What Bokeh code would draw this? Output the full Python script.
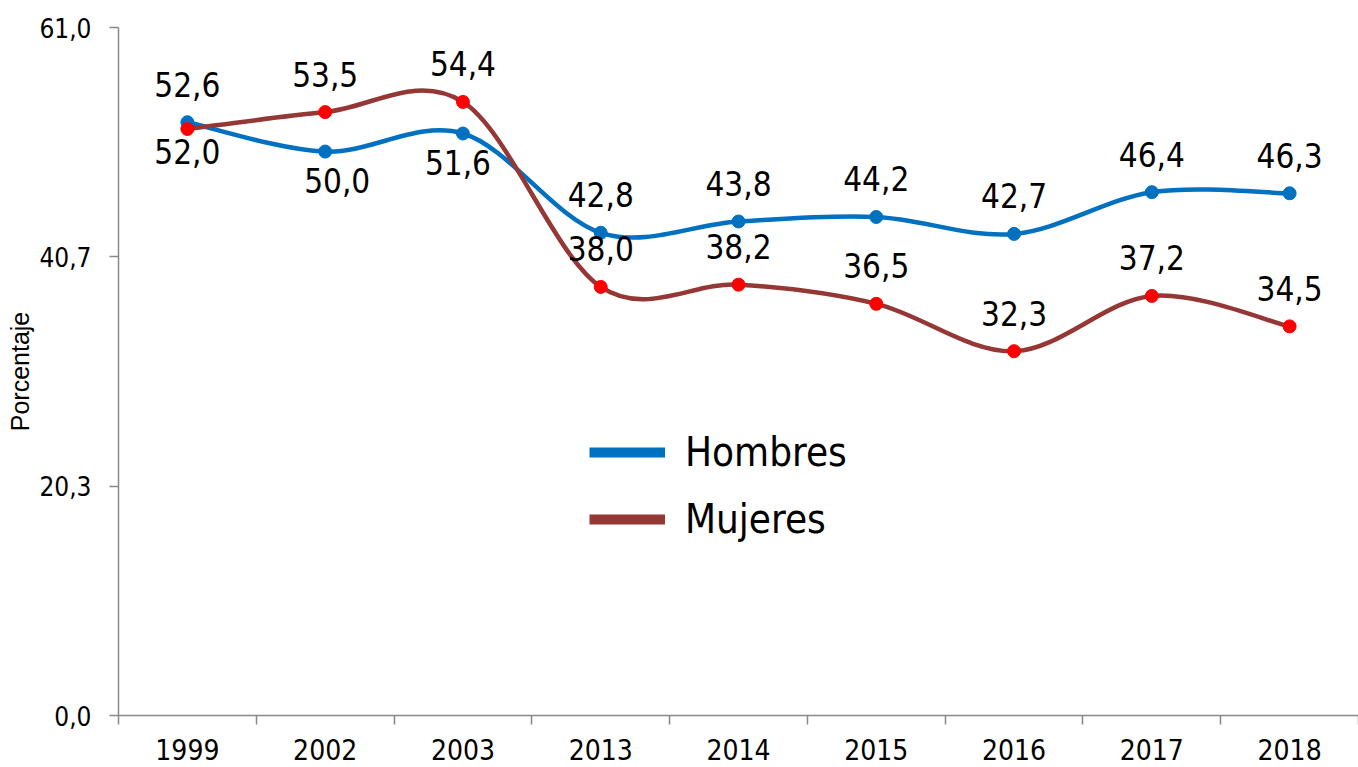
import numpy as np
from bokeh.plotting import figure
from bokeh.models import (Range1d, FixedTicker, CustomJSTickFormatter, Legend,
                          LegendItem, ColumnDataSource)
from bokeh.core.properties import value
from bokeh.embed import file_html
from bokeh.resources import INLINE

# ---------------- data ----------------
years = ["1999", "2002", "2003", "2013", "2014", "2015", "2016", "2017", "2018"]
hombres = [52.6, 50.0, 51.6, 42.8, 43.8, 44.2, 42.7, 46.4, 46.3]
mujeres = [52.0, 53.5, 54.4, 38.0, 38.2, 36.5, 32.3, 37.2, 34.5]
y_max = 61.0
y_tick_values = [0.0, y_max / 3, 2 * y_max / 3, y_max]

# ---------------- label placement (style) ----------------
hombres_label_dx = [0, 12, -5, 0, 0, 0, 0, 0, 0]
hombres_label_dy = [-38, 29, 29, -38, -38, -38, -38, -38, -38]
mujeres_label_dx = [0, 0, 0, 0, 0, 0, 0, 0, 0]
mujeres_label_dy = [22, -38, -38, -38, -38, -38, -38, -38, -38]

NARROW = ("Liberation Sans Narrow, Arial Narrow, DejaVu Sans Condensed, "
          "Liberation Sans, sans-serif")
REGULAR = "Liberation Sans, Arial, sans-serif"
BLUE = "#0070C0"
DARKRED = "#953735"
RED = "#FF0000"
AXIS = "#898989"


def smooth_segments(vals):
    """Cubic Bezier control points for a smoothed line through the values."""
    n = len(vals)
    xs = np.arange(n, dtype=float)
    ys = np.asarray(vals, dtype=float)
    px = np.concatenate([[xs[0]], xs, [xs[-1]]])
    py = np.concatenate([[ys[0]], ys, [ys[-1]]])
    return dict(
        x0=xs[:-1], y0=ys[:-1], x1=xs[1:], y1=ys[1:],
        cx0=px[1:n] + (px[2:n + 1] - px[0:n - 1]) / 6.0,
        cy0=py[1:n] + (py[2:n + 1] - py[0:n - 1]) / 6.0,
        cx1=px[2:n + 1] - (px[3:n + 2] - px[1:n]) / 6.0,
        cy1=py[2:n + 1] - (py[3:n + 2] - py[1:n]) / 6.0,
    )


def fmt(v):
    return f"{v:.1f}".replace(".", ",")


p = figure(width=1358, height=767, output_backend="svg", toolbar_location=None,
           x_range=Range1d(-0.5, len(years) - 0.5), y_range=Range1d(0, y_max),
           min_border_left=118, min_border_right=0, min_border_top=27,
           min_border_bottom=52)
p.outline_line_color = None
p.xgrid.visible = False
p.ygrid.visible = False
p.background_fill_color = "white"
p.border_fill_color = "white"

# x axis: labels at category centers, tick marks between categories
xa = p.xaxis[0]
xa.ticker = FixedTicker(ticks=list(range(len(years))),
                        minor_ticks=[i - 0.5 for i in range(len(years) + 1)])
xa.major_label_overrides = {i: y for i, y in enumerate(years)}
xa.major_tick_out = 0
xa.major_tick_in = 0
xa.minor_tick_out = 9
xa.minor_tick_in = 0
xa.minor_tick_line_color = AXIS
xa.minor_tick_line_width = 1.5
xa.axis_line_color = AXIS
xa.axis_line_width = 1.5
xa.major_label_text_font = NARROW
xa.major_label_text_font_size = "28px"
xa.major_label_text_color = "black"
xa.major_label_standoff = 14

ya = p.yaxis[0]
ya.ticker = FixedTicker(ticks=y_tick_values, minor_ticks=[])
ya.formatter = CustomJSTickFormatter(code="return tick.toFixed(1).replace('.', ',');")
ya.major_tick_out = 9
ya.major_tick_in = 0
ya.minor_tick_out = 0
ya.minor_tick_in = 0
ya.major_tick_line_color = AXIS
ya.major_tick_line_width = 1.5
ya.axis_line_color = AXIS
ya.axis_line_width = 1.5
ya.major_label_text_font = NARROW
ya.major_label_text_font_size = "26px"
ya.major_label_text_color = "black"
ya.major_label_standoff = 18
ya.axis_label = "Porcentaje"
ya.axis_label_text_font = REGULAR
ya.axis_label_text_font_size = "25px"
ya.axis_label_text_font_style = "normal"
ya.axis_label_text_color = "black"
ya.axis_label_standoff = 2

x_idx = list(range(len(years)))

# Hombres
p.bezier(source=ColumnDataSource(smooth_segments(hombres)),
         x0="x0", y0="y0", x1="x1", y1="y1", cx0="cx0", cy0="cy0", cx1="cx1", cy1="cy1",
         line_color=BLUE, line_width=4.5, line_cap="round")
p.scatter(x_idx, hombres, size=13, fill_color=BLUE, line_color=BLUE)

# Mujeres
p.bezier(source=ColumnDataSource(smooth_segments(mujeres)),
         x0="x0", y0="y0", x1="x1", y1="y1", cx0="cx0", cy0="cy0", cx1="cx1", cy1="cy1",
         line_color=DARKRED, line_width=4.5, line_cap="round")
p.scatter(x_idx, mujeres, size=13, fill_color=RED, line_color=RED)

# data labels
for vals, dx, dy in ((hombres, hombres_label_dx, hombres_label_dy),
                     (mujeres, mujeres_label_dx, mujeres_label_dy)):
    src = ColumnDataSource(dict(x=x_idx, y=vals, t=[fmt(v) for v in vals], dx=dx, dy=dy))
    p.text(x="x", y="y", text="t", x_offset="dx", y_offset="dy", source=src,
           text_align="center", text_baseline="middle",
           text_font=value(NARROW), text_font_size="33px", text_color="black")

# legend swatches (thicker than the plotted lines); the renderers themselves are hidden
lh = p.line(x_idx, hombres, line_color=BLUE, line_width=10, visible=False)
lm = p.line(x_idx, mujeres, line_color=DARKRED, line_width=10, visible=False)
legend = Legend(items=[LegendItem(label="Hombres", renderers=[lh]),
                       LegendItem(label="Mujeres", renderers=[lm])],
                location=(471, 166), orientation="vertical",
                glyph_width=76, glyph_height=60, label_height=60, label_width=100,
                label_standoff=20, spacing=7, padding=0, margin=0,
                border_line_alpha=0, background_fill_alpha=0,
                label_text_font=NARROW, label_text_font_size="40px",
                label_text_color="black")
p.add_layout(legend)

open("out.html", "w").write(file_html(p, INLINE))
